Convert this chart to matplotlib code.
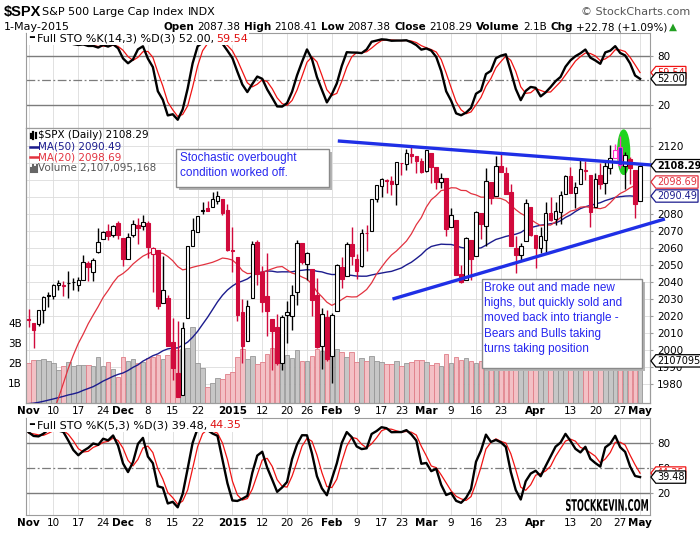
import numpy as np
import pandas as pd
import matplotlib
matplotlib.use("Agg")
import matplotlib.pyplot as plt
from matplotlib.patches import Rectangle, Ellipse, PathPatch
from matplotlib.lines import Line2D
from matplotlib.path import Path
from matplotlib.textpath import TextPath
from matplotlib.font_manager import FontProperties
from matplotlib.transforms import Affine2D

# ---- daily S&P 500 data, 3-Nov-2014 .. 1-May-2015 ----
opens = [2018.21, 2015.81, 2015.29, 2023.33, 2032.36, 2032.01, 2038.20, 2037.75, 2039.21, 2039.74,
         2038.29, 2041.48, 2051.16, 2045.87, 2057.46, 2065.07, 2070.15, 2067.36, 2074.78,
         2065.78, 2053.77, 2067.45, 2073.64, 2072.78, 2074.84, 2056.55, 2058.86, 2027.92, 2030.36,
         2005.03, 1986.71, 1973.77, 2018.98, 2061.04, 2069.28, 2081.48, 2083.25, 2084.30, 2087.63,
         2088.49, 2082.11,
         2058.90, 2054.44, 2022.15, 2005.55, 2030.61, 2063.45, 2046.13, 2031.58, 2018.40, 2013.75,
         1992.25, 2020.76, 2020.19, 2034.30, 2062.98, 2050.42, 2047.86, 2032.34, 2002.45, 2019.35,
         1996.67, 2022.71, 2048.86, 2043.45, 2062.28, 2053.47, 2049.38, 2068.55, 2069.98, 2088.78,
         2096.47, 2099.16, 2099.25, 2097.65, 2109.83, 2109.10, 2115.30, 2113.91, 2110.88,
         2105.23, 2115.76, 2107.72, 2098.54, 2100.91, 2072.25, 2076.14, 2044.69, 2041.10, 2064.56,
         2055.35, 2080.59, 2072.84, 2098.69, 2090.32, 2107.99, 2103.94, 2093.10, 2059.94, 2055.78,
         2064.11, 2084.05,
         2067.63, 2060.03, 2064.87, 2080.79, 2076.94, 2081.29, 2091.51, 2102.03, 2092.28, 2097.82,
         2105.96, 2102.58, 2084.11, 2102.82, 2098.27, 2107.21, 2112.80, 2119.29, 2108.35, 2112.49,
         2105.52,
         2087.38]
highs = [2024.46, 2015.98, 2023.77, 2031.61, 2034.26, 2038.70, 2041.28, 2040.33, 2046.18, 2042.22,
         2043.07, 2056.08, 2052.14, 2053.84, 2071.46, 2070.17, 2074.21, 2073.29, 2075.76,
         2065.78, 2068.77, 2076.28, 2077.34, 2079.47, 2075.78, 2060.60, 2058.86, 2055.53, 2032.25,
         2018.69, 2016.89, 2016.75, 2061.23, 2077.85, 2078.76, 2086.73, 2087.56, 2092.70, 2093.55,
         2088.49, 2085.58,
         2072.36, 2054.44, 2030.25, 2029.61, 2064.08, 2064.43, 2049.30, 2056.93, 2018.40, 2021.35,
         2020.46, 2028.94, 2038.29, 2064.62, 2062.98, 2057.62, 2047.86, 2042.49, 2024.64, 2023.32,
         2021.66, 2050.30, 2054.74, 2063.55, 2072.40, 2056.16, 2070.86, 2073.48, 2088.53, 2097.03,
         2101.30, 2100.23, 2102.13, 2110.61, 2110.05, 2117.94, 2119.59, 2113.91, 2112.74,
         2117.52, 2115.76, 2107.72, 2104.25, 2100.91, 2083.49, 2076.14, 2050.08, 2066.41, 2064.56,
         2081.41, 2080.59, 2106.85, 2098.69, 2113.92, 2114.86, 2107.63, 2097.43, 2067.15, 2062.83,
         2088.97, 2084.05,
         2067.63, 2072.17, 2086.99, 2089.81, 2086.69, 2093.31, 2102.61, 2107.65, 2098.62, 2111.91,
         2111.30, 2102.58, 2103.94, 2109.64, 2110.19, 2120.49, 2120.92, 2125.92, 2116.04, 2113.65,
         2105.52,
         2108.41]
lows = [2013.68, 2001.01, 2014.42, 2015.86, 2025.07, 2030.17, 2035.28, 2031.95, 2030.44, 2035.20,
        2034.46, 2041.48, 2040.37, 2040.49, 2056.75, 2065.07, 2064.75, 2066.62, 2065.06,
        2049.57, 2053.77, 2066.65, 2062.34, 2070.81, 2054.27, 2034.17, 2024.26, 2027.92, 2002.33,
        1982.26, 1972.56, 1973.77, 2018.98, 2061.03, 2069.28, 2079.77, 2081.86, 2084.30, 2085.75,
        2079.53, 2057.94,
        2046.04, 2017.34, 1992.44, 2005.55, 2030.61, 2038.33, 2022.58, 2008.25, 1988.44, 1991.47,
        1988.12, 2004.49, 2012.04, 2026.38, 2050.54, 2040.97, 2019.91, 2001.49, 1989.18, 1993.38,
        1980.90, 2022.71, 2036.72, 2043.45, 2049.97, 2041.88, 2048.62, 2057.99, 2069.98, 2086.70,
        2089.80, 2092.15, 2090.79, 2085.44, 2103.00, 2105.87, 2109.89, 2103.76, 2103.75,
        2104.50, 2098.26, 2094.49, 2095.22, 2067.27, 2072.21, 2044.16, 2039.69, 2041.10, 2041.17,
        2055.35, 2065.08, 2061.23, 2085.56, 2090.32, 2104.42, 2091.50, 2061.05, 2045.50, 2052.96,
        2064.11, 2067.04,
        2048.38, 2057.32, 2056.52, 2076.10, 2073.30, 2074.29, 2091.51, 2092.33, 2083.24, 2097.82,
        2100.02, 2072.37, 2084.11, 2094.38, 2091.59, 2103.19, 2112.80, 2107.04, 2094.89, 2097.41,
        2077.59,
        2087.38]
closes = [2017.81, 2012.10, 2023.57, 2031.21, 2031.92, 2038.26, 2039.68, 2038.25, 2039.33, 2039.82,
          2041.32, 2051.80, 2048.72, 2052.75, 2063.50, 2069.41, 2067.03, 2072.83, 2067.56,
          2053.44, 2066.55, 2074.33, 2071.92, 2075.37, 2060.31, 2059.82, 2026.14, 2035.33, 2002.33,
          1989.63, 1972.74, 2012.89, 2061.23, 2070.65, 2078.54, 2082.17, 2081.88, 2088.77, 2090.57,
          2080.35, 2058.90,
          2058.20, 2020.58, 2002.61, 2025.90, 2062.14, 2044.81, 2028.26, 2023.03, 2011.27, 1992.67,
          2019.42, 2022.55, 2032.12, 2063.15, 2051.82, 2057.09, 2029.55, 2002.16, 2021.25, 1994.99,
          2020.85, 2050.03, 2041.51, 2062.52, 2055.47, 2046.74, 2068.59, 2068.53, 2088.48, 2096.99,
          2100.34, 2099.68, 2097.45, 2110.30, 2109.66, 2115.48, 2113.86, 2110.74, 2104.50,
          2117.39, 2107.78, 2098.53, 2101.04, 2071.26, 2079.43, 2044.16, 2040.24, 2065.95, 2053.40,
          2081.19, 2074.28, 2099.50, 2089.27, 2108.10, 2104.42, 2091.50, 2061.05, 2056.15, 2061.02,
          2086.24, 2067.89,
          2059.69, 2066.96, 2080.62, 2076.33, 2081.90, 2091.18, 2102.06, 2092.43, 2095.84, 2106.63,
          2104.99, 2081.18, 2100.40, 2097.29, 2107.96, 2112.93, 2117.69, 2108.92, 2114.76, 2106.85,
          2085.51,
          2108.29]
# volume in billions of shares
volume_b = [2.00, 2.17, 2.17, 2.22, 2.12, 2.00, 1.67, 1.87, 2.05, 1.87,
            1.92, 1.92, 1.92, 1.87, 2.30, 1.87, 2.05, 1.70, 1.30,
            2.30, 2.08, 2.20, 2.00, 2.05, 2.25, 2.30, 2.40, 2.20, 2.40,
            2.67, 2.67, 2.70, 2.75, 3.80, 2.00, 1.75, 0.80, 1.00, 1.25,
            1.20, 1.45,
            1.55, 2.30, 2.70, 2.20, 2.37, 1.95, 2.05, 2.45, 2.75, 2.80,
            2.63, 2.40, 2.25, 2.63, 2.08, 2.08, 2.37, 2.70, 2.58, 2.50,
            2.75, 2.70, 2.55, 2.30, 2.55, 2.05, 2.25, 2.12, 2.37, 2.08,
            2.05, 1.97, 1.97, 2.12, 1.87, 2.00, 2.05, 2.17, 2.17,
            2.05, 1.92, 2.00, 1.87, 2.47, 2.00, 2.30, 2.17, 2.25, 2.12,
            2.00, 2.10, 2.35, 2.00, 2.60, 1.90, 1.95, 2.30, 2.25, 1.95,
            2.00, 2.10,
            2.15, 1.95, 1.95, 1.95, 1.95, 1.95, 1.95, 1.95, 2.00, 2.05,
            2.00, 2.25, 1.95, 2.00, 2.05, 2.10, 1.95, 2.10, 2.05, 2.05,
            2.25,
            2.107]

# history before the chart window (25-Aug-2014 .. 31-Oct-2014), only feeds the indicators
pre_close = [1997.92, 2000.02, 2000.12, 1996.74, 2003.37,
             2002.28, 2000.72, 1997.65, 2007.71, 2001.54, 1988.44, 1995.69, 1997.45, 1985.54, 1984.13,
             1998.98, 2001.57, 2011.36, 2010.40, 1994.29, 1982.77, 1998.30, 1965.99, 1982.85, 1977.80,
             1972.29,
             1946.16, 1946.17, 1967.90, 1964.82, 1935.10, 1968.89, 1928.21, 1906.13, 1874.74, 1877.70,
             1862.49, 1862.76, 1886.76, 1904.01, 1941.28, 1927.11, 1950.82, 1964.58, 1961.63, 1985.05,
             1982.30, 1994.65, 2018.05]
pre_high = [1967.68, 1936.98, 1912.09, 1898.71, 1874.14, 1876.01, 1898.11, 1905.03, 1942.45,
            1949.31, 1961.95, 1965.27, 1964.64, 1985.17, 1991.40, 1999.40, 2018.19]
pre_low = [1927.56, 1906.05, 1874.14, 1871.79, 1820.66, 1835.02, 1864.38, 1882.30, 1909.38,
           1926.83, 1931.69, 1946.27, 1951.37, 1964.14, 1969.04, 1974.75, 2001.01]

tick_idx = [0, 5, 10, 15, 19, 24, 29, 34, 41, 47, 52, 56, 61, 66, 71, 75, 80, 85, 90, 95,
            102, 109, 114, 119, 123]
tick_lbl = ['Nov', '10', '17', '24', 'Dec', '8', '15', '22', '2015', '12', '20', '26', 'Feb',
            '9', '17', '23', 'Mar', '9', '16', '23', 'Apr', '13', '20', '27', 'May']
months = {'Nov', 'Dec', '2015', 'Feb', 'Mar', 'Apr', 'May'}

# ---- indicators ----
n = len(closes)
x = np.arange(n)
o, h, l, c = (np.array(v) for v in (opens, highs, lows, closes))
vol = np.array(volume_b)
prev = np.r_[pre_close[-1], c[:-1]]

c_all = pd.Series(pre_close + closes)
pad = [np.nan] * (len(pre_close) - len(pre_high))
h_all = pd.Series(pad + pre_high + highs)
l_all = pd.Series(pad + pre_low + lows)
ma50 = c_all.rolling(50).mean().to_numpy()[-n:]
ma20 = c_all.rolling(20).mean().to_numpy()[-n:]


def full_sto(k):
    ll = l_all.rolling(k).min()
    hh = h_all.rolling(k).max()
    fast = 100 * (c_all - ll) / (hh - ll)
    slow = fast.rolling(3).mean()
    sig = slow.rolling(3).mean()
    return slow.to_numpy()[-n:], sig.to_numpy()[-n:]


k14, d14 = full_sto(14)
k5, d5 = full_sto(5)

# ---- style ----
RED = '#d10a3c'
NAVY = '#1c1c8e'
MA20C = '#e2323f'
GRID = '#dcdcdc'
BLUE = '#1f2fe6'
NOTE = '#2626f0'
FS = 7.5


def fx(px):
    return px / 700.0


def fy(py):
    return 1 - py / 535.0


def tag_box(x0, y0, width, height, mutation_size):
    p = 0.12 * mutation_size
    x0, y0 = x0 - p, y0 - p
    x1, y1 = x0 + width + 2 * p, y0 + height + 2 * p
    tip = (y1 - y0) * 0.4
    return Path([(x0, y0), (x1, y0), (x1, y1), (x0, y1), (x0 - tip, (y0 + y1) / 2), (x0, y0)],
                closed=True)


def flag(a, yval, label, ec, tc, coords=None, weight='normal', z=8):
    a.annotate(label, xy=(1.0, yval), xycoords=coords or a.get_yaxis_transform(),
               xytext=(7, 0), textcoords='offset pixels', ha='left', va='center',
               fontsize=7.0, color=tc, fontweight=weight, annotation_clip=False, zorder=z,
               bbox=dict(boxstyle=tag_box, fc='white', ec=ec, lw=0.9))


def chain(a, px, py, parts, size=8, box=False):
    bb = dict(fc='white', ec='none', pad=1.2) if box else None
    s, w, col = parts[0]
    t = a.text(fx(px), fy(py), s, transform=fig.transFigure, fontsize=size, fontweight=w,
               color=col, va='center', ha='left', zorder=9, bbox=bb)
    for s, w, col, gap in parts[1:]:
        t = a.annotate(s, xy=(1, 0), xycoords=t, xytext=(gap, 0), textcoords='offset pixels',
                       fontsize=size, fontweight=w, color=col, va='bottom', ha='left',
                       annotation_clip=False, zorder=9, bbox=bb)
    return t


def frame(a):
    for s in a.spines.values():
        s.set_color('#9c9c9c')
        s.set_linewidth(0.8)
    a.set_xlim(-0.52, 125.0)


fig = plt.figure(figsize=(7, 5.35), dpi=100)
L, WD = fx(26), 624 / 700.0
ax_top = fig.add_axes([L, fy(128), WD, 94.7 / 535])
axv = fig.add_axes([L, fy(403), WD, 275 / 535])
ax = axv.twinx()
ax_bot = fig.add_axes([L, fy(515), WD, 96.7 / 535])


def sto_panel(a, k, d, ylim, legend_y, name, kv, dv, labels):
    frame(a)
    a.set_xticks(tick_idx)
    a.grid(axis='x', color=GRID, lw=0.6)
    a.set_axisbelow(True)
    for lvl in (20, 80):
        a.axhline(lvl, color='#7c7c7c', lw=1.0, zorder=1)
    a.axhline(50, color='#7c7c7c', lw=0.9, ls=(0, (7, 2, 1.5, 2)), zorder=1)
    a.plot(x, d, color='#f01414', lw=0.9, zorder=3)
    a.plot(x, k, color='black', lw=1.7, zorder=4)
    a.set_ylim(*ylim)
    a.yaxis.tick_right()
    a.set_yticks([20, 50, 80])
    a.tick_params(axis='y', length=2, pad=3, labelsize=FS, color='#9c9c9c')
    if labels:
        a.set_xticklabels(tick_lbl)
        a.tick_params(axis='x', length=0, pad=2, labelsize=FS)
        for t in a.get_xticklabels():
            if t.get_text() in months:
                t.set_fontweight('bold')
    else:
        a.tick_params(axis='x', length=0, labelbottom=False)
    flag(a, dv, f'{dv:.2f}', '#f01414', '#f01414')
    flag(a, kv, f'{kv:.2f}', 'black', 'black', z=9)
    chain(a, 29, legend_y, [('━', 'normal', 'black'),
                            (name + f' {kv:.2f},', 'normal', 'black', 1),
                            (f'{dv:.2f}', 'normal', '#e01010', 2)], size=8, box=True)


sto_panel(ax_top, k14, d14, (-7.4, 107), 38.5, 'Full STO %K(14,3) %D(3)', 52.00, 59.54, False)
sto_panel(ax_bot, k5, d5, (-6, 110), 425, 'Full STO %K(5,3) %D(3)', 39.48, 44.35, True)

# ---- price panel: volume underneath ----
frame(axv)
frame(ax)
down = c < prev
axv.bar(x, vol, width=0.92, color=np.where(down, '#f3c0c5', '#c6c6c6'),
        edgecolor=np.where(down, '#e07e88', '#979797'), lw=0.6, zorder=2)
axv.hlines(np.arange(1980, 2121, 10), 0, 1, transform=ax.get_yaxis_transform(),
           colors=GRID, lw=0.6, zorder=0.5)
axv.set_ylim(0, 13.75)
axv.set_yticks([1, 2, 3, 4])
axv.set_yticklabels(['1B', '2B', '3B', '4B'])
axv.yaxis.tick_left()
axv.tick_params(axis='y', length=0, pad=3, labelsize=FS)
axv.set_xticks(tick_idx)
axv.set_xticklabels(tick_lbl)
axv.tick_params(axis='x', length=0, pad=2, labelsize=FS)
for t in axv.get_xticklabels():
    if t.get_text() in months:
        t.set_fontweight('bold')
axv.grid(axis='x', color=GRID, lw=0.6)
axv.set_axisbelow(True)

ax.set_ylim(1969.0, 2130.4)
ax.yaxis.tick_right()
ax.set_yticks(np.arange(1980, 2121, 10))
ax.tick_params(axis='y', length=2, pad=3, labelsize=FS, color='#9c9c9c')

# breakout highlight
ax.add_patch(Ellipse((119.7, 2116.2), 2.4, 26, color='#1fd41f', zorder=3.5))

ax.plot(x, ma50, color=NAVY, lw=1.0, zorder=3)
ax.plot(x, ma20, color=MA20C, lw=0.9, zorder=3)

edge = np.where(c >= prev, 'black', RED).astype(object)
face = np.where(c < o, edge, 'white').astype(object)
edge[118] = '#ff30c8'
edge[119] = '#ff30c8'
face[119] = '#3030c8'
ax.vlines(x, l, h, colors=list(edge), lw=1.0, zorder=4)
ax.bar(x, np.maximum(np.abs(c - o), 0.4), bottom=np.minimum(o, c), width=0.72,
       color=list(face), edgecolor=list(edge), lw=0.8, zorder=5)

# triangle trend lines
ax.plot([62.2, 127.0], [2122.8, 2108.3], color=BLUE, lw=2.4, clip_on=False, zorder=7,
        solid_capstyle='butt')
ax.plot([73.2, 128.0], [2030.0, 2077.0], color=BLUE, lw=2.4, clip_on=False, zorder=7,
        solid_capstyle='butt')

flag(ax, 2090.49, '2090.49', NAVY, NAVY)
flag(ax, 2098.69, '2098.69', MA20C, MA20C)
flag(ax, 2108.29, '2108.29', 'black', 'black', weight='bold', z=9)
flag(ax, 2.107 / 13.75, '2107095', 'black', 'black', coords=ax.transAxes)

# main legend
for xx, hh in ((30.5, 4), (33, 7), (35.5, 5)):
    fig.add_artist(Line2D([fx(xx), fx(xx)], [fy(135.5 + hh / 2), fy(135.5 - hh / 2)],
                          color='black', lw=1.6))
ax.text(fx(38.5), fy(135.3), '$SPX (Daily) 2108.29', transform=fig.transFigure, fontsize=FS,
        va='center', zorder=9)
for yy, col, s in ((146.7, NAVY, 'MA(50) 2090.49'), (157.3, MA20C, 'MA(20) 2098.69')):
    fig.add_artist(Line2D([fx(29.5), fx(38)], [fy(yy), fy(yy)], color=col, lw=1.8))
    ax.text(fx(38.5), fy(yy), s, transform=fig.transFigure, fontsize=FS, color=col,
            va='center', zorder=9)
for xx, hh in ((30.5, 4), (32.7, 7), (34.9, 5), (37.1, 6)):
    fig.add_artist(Line2D([fx(xx), fx(xx)], [fy(171.5), fy(171.5 - hh)], color='#666666',
                          lw=1.5))
ax.text(fx(38.5), fy(167.7), 'Volume 2,107,095,168', transform=fig.transFigure, fontsize=FS,
        color='#555555', va='center', zorder=9)

# ---- header ----
fig.text(fx(4), fy(12), '$SPX', fontsize=10.5, fontweight='bold', family='Liberation Sans',
         va='center')
chain(ax_top, 42, 12, [('S&P 500 Large Cap Index', 'normal', 'black'),
                       ('INDX', 'normal', 'black', 4)], size=8)
fig.text(fx(690), fy(12), '© StockCharts.com', fontsize=8, color='#555555', ha='right',
         va='center')
fig.text(fx(4), fy(27), '1-May-2015', fontsize=8, va='center')
chain(ax_top, 163, 27, [('Open', 'bold', 'black'), ('2087.38', 'normal', 'black', 3),
                        ('High', 'bold', 'black', 4), ('2108.41', 'normal', 'black', 3),
                        ('Low', 'bold', 'black', 4), ('2087.38', 'normal', 'black', 3),
                        ('Close', 'bold', 'black', 4), ('2108.29', 'normal', 'black', 3),
                        ('Volume', 'bold', 'black', 4), ('2.1B', 'normal', 'black', 3),
                        ('Chg', 'bold', 'black', 4), ('+22.78 (+1.09%)', 'normal', 'black', 3),
                        ('▲', 'normal', '#22a022', 1)], size=7.5)


# ---- annotation notes ----
def note(x0, y0, x1, y1, text, tx, ty):
    w, hgt = (x1 - x0) / 700.0, (y1 - y0) / 535.0
    fig.add_artist(Rectangle((fx(x0 + 3), fy(y1 + 3)), w, hgt, transform=fig.transFigure,
                             fc='#b4b4b4', ec='none', zorder=5))
    fig.add_artist(Rectangle((fx(x0), fy(y1)), w, hgt, transform=fig.transFigure,
                             fc='white', ec='#8a8a8a', lw=1.0, zorder=6))
    fig.text(fx(tx), fy(ty), text, color=NOTE, fontsize=8.5, family='Liberation Sans',
             ha='left', va='top', linespacing=1.36, zorder=7)


note(176, 149, 329, 187, 'Stochastic overbought\ncondition worked off.', 180, 152)
note(482, 279, 642, 368, 'Broke out and made new\nhighs, but quickly sold and\n'
     'moved back into triangle -\nBears and Bulls taking\nturns taking position', 484.5, 282)

# watermark
tp = TextPath((0, 0), 'STOCKKEVIN.COM', size=10,
              prop=FontProperties(family='DejaVu Sans', weight='bold'))
ext = tp.get_extents()
sx, sy = 0.82 / ext.width, 0.12 / ext.height
tr = (Affine2D().translate(-ext.x0, -ext.y0).scale(sx, sy).translate(5.66, (535 - 511) / 100.0)
      + fig.dpi_scale_trans)
fig.add_artist(PathPatch(tp, transform=tr, fc='black', ec='none', zorder=8))

fig.savefig('out.png', dpi=100)
